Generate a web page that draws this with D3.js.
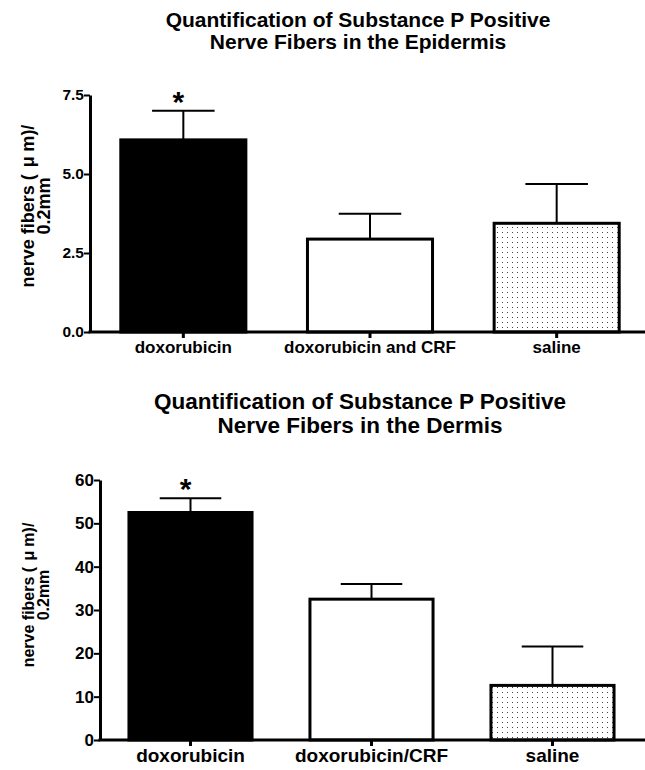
<!DOCTYPE html>
<html lang="en">
<head>
    <meta charset="UTF-8">
    <title>Substance P nerve fibers</title>
    <script src="https://cdn.jsdelivr.net/npm/d3@7"></script>
    <style>
        body{
            margin: 0;
            background: #fff;
        }
        svg text{
            font-family: "Liberation Sans", Arial, sans-serif;
            font-weight: bold;
            fill: #000;
        }
    </style>
</head>
<body>
<svg></svg>
<script>
    // chart data
    const epiGroups = ["doxorubicin", "doxorubicin and CRF", "saline"];
    const epiMeans = [6.08, 2.94, 3.44];
    const epiErr = [0.92, 0.80, 1.24];
    const epiTicks = [0, 2.5, 5, 7.5];

    const dermGroups = ["doxorubicin", "doxorubicin/CRF", "saline"];
    const dermMeans = [52.5, 32.5, 12.6];
    const dermErr = [3.3, 3.5, 9.0];
    const dermTicks = [0, 10, 20, 30, 40, 50, 60];

    const fills = ["#000", "#fff", "url(#dots)"];

    const width = 645, height = 770;
    const svg = d3.select("svg").attr("width", width).attr("height", height);

    // stipple pattern for the saline bar
    const pat = svg.append("defs").append("pattern")
        .attr("id", "dots")
        .attr("patternUnits", "userSpaceOnUse")
        .attr("width", 5).attr("height", 5);
    pat.append("rect").attr("width", 5).attr("height", 5).attr("fill", "#fff");
    pat.append("rect").attr("x", 2).attr("y", 2).attr("width", 1).attr("height", 1).attr("fill", "#444");

    function drawChart(cfg){
        const g = svg.append("g");
        const x = d3.scaleBand()
            .domain(cfg.groups)
            .range([cfg.left, cfg.right])
            .paddingInner(cfg.pad)
            .paddingOuter(cfg.pad / 2);
        const y = d3.scaleLinear()
            .domain([0, cfg.ymax])
            .range([cfg.bottom, cfg.top]);

        // title
        cfg.title.forEach((t, i) => {
            g.append("text")
                .attr("x", cfg.titleX)
                .attr("y", cfg.titleY + i * cfg.titleGap)
                .attr("text-anchor", "middle")
                .style("font-size", cfg.titleSize + "px")
                .text(t);
        });

        // bars
        g.selectAll(".bar")
            .data(cfg.groups)
            .join("rect")
            .attr("x", d => x(d))
            .attr("y", (d, i) => y(cfg.means[i]))
            .attr("width", x.bandwidth())
            .attr("height", (d, i) => y(0) - y(cfg.means[i]))
            .attr("fill", (d, i) => fills[i])
            .attr("stroke", "#000")
            .attr("stroke-width", 3);

        // error bars (upper only)
        const capW = x.bandwidth() / 2;
        cfg.groups.forEach((d, i) => {
            const cx = x(d) + x.bandwidth() / 2;
            const top = y(cfg.means[i] + cfg.err[i]);
            g.append("line")
                .attr("x1", cx).attr("x2", cx)
                .attr("y1", y(cfg.means[i])).attr("y2", top)
                .attr("stroke", "#000").attr("stroke-width", 2);
            g.append("line")
                .attr("x1", cx - capW / 2).attr("x2", cx + capW / 2)
                .attr("y1", top).attr("y2", top)
                .attr("stroke", "#000").attr("stroke-width", 2);
        });

        // significance star over first bar
        const c0 = x(cfg.groups[0]) + x.bandwidth() / 2;
        g.append("text")
            .attr("x", c0 - 5)
            .attr("y", y(cfg.means[0] + cfg.err[0]) + 1)
            .attr("text-anchor", "middle")
            .style("font-size", "30px")
            .text("*");

        // y axis
        const yAxis = g.append("g")
            .attr("transform", `translate(${cfg.left},0)`)
            .call(d3.axisLeft(y).tickValues(cfg.ticks).tickSize(6).tickSizeOuter(0)
                .tickFormat(cfg.fmt));
        yAxis.select(".domain").attr("stroke-width", 3);
        yAxis.selectAll(".tick line").attr("stroke-width", 2);
        yAxis.selectAll(".tick text")
            .attr("x", -6)
            .style("font-size", cfg.tickSize + "px")
            .style("font-weight", "bold")
            .style("font-family", "'Liberation Sans', Arial, sans-serif");

        // x axis
        const xAxis = g.append("g")
            .attr("transform", `translate(0,${cfg.bottom})`)
            .call(d3.axisBottom(x).tickSize(6).tickSizeOuter(0));
        xAxis.select(".domain").attr("stroke-width", 3)
            .attr("d", `M${cfg.left - 1.5},0H${width}`);
        xAxis.selectAll(".tick line").attr("stroke-width", 3).attr("y1", 1);
        xAxis.selectAll(".tick text")
            .attr("y", cfg.labelDy)
            .style("font-size", cfg.labelSize + "px")
            .style("font-weight", "bold")
            .style("font-family", "'Liberation Sans', Arial, sans-serif");

        // y label (two lines, rotated)
        const s = cfg.ylabSize;
        const lab = g.append("text")
            .attr("transform", `translate(${cfg.ylabX},${cfg.ylabY}) rotate(-90)`)
            .attr("text-anchor", "middle")
            .style("font-size", s + "px");
        lab.append("tspan").text("nerve fibers (");
        lab.append("tspan").attr("dx", s * 0.4).text("\u03bc");
        lab.append("tspan").attr("dx", s * 0.25).text("m)/");
        g.append("text")
            .attr("transform", `translate(${cfg.ylabX + cfg.ylabGap},${cfg.ylabY}) rotate(-90)`)
            .attr("text-anchor", "middle")
            .style("font-size", s + "px")
            .text("0.2mm");
    }

    drawChart({
        groups: epiGroups, means: epiMeans, err: epiErr, ticks: epiTicks,
        ymax: 7.5, fmt: d3.format(".1f"),
        left: 90, right: 650, top: 95, bottom: 332, pad: 0.33,
        title: ["Quantification of Substance P Positive", "Nerve Fibers in the Epidermis"],
        titleX: 358, titleY: 27, titleGap: 22, titleSize: 21,
        tickSize: 15.5, labelSize: 17, labelDy: 9,
        ylabX: 34, ylabY: 206, ylabSize: 18, ylabGap: 16
    });

    drawChart({
        groups: dermGroups, means: dermMeans, err: dermErr, ticks: dermTicks,
        ymax: 60, fmt: d3.format("d"),
        left: 100, right: 643, top: 480, bottom: 740, pad: 0.32,
        title: ["Quantification of Substance P Positive", "Nerve Fibers in the Dermis"],
        titleX: 360, titleY: 409, titleGap: 24, titleSize: 22.5,
        tickSize: 17, labelSize: 19, labelDy: 9,
        ylabX: 34, ylabY: 595, ylabSize: 16, ylabGap: 15
    });
</script>
</body>
</html>
